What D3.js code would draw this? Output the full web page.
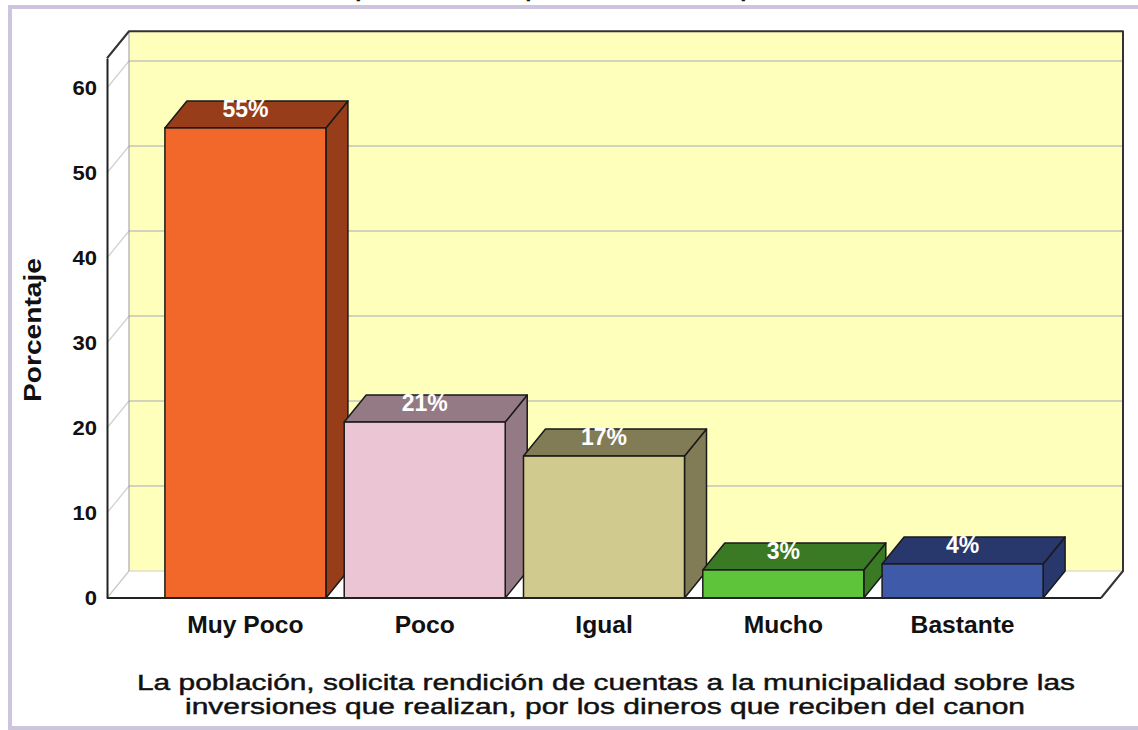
<!DOCTYPE html>
<html><head><meta charset="utf-8">
<script src="https://cdn.jsdelivr.net/npm/d3@7"></script>
<style>
html,body{margin:0;padding:0;background:#fff;}
svg{display:block;font-family:"Liberation Sans",Arial,sans-serif;}
</style></head>
<body>
<svg id="chart" width="1138" height="730"></svg>
<script>
const categories = ["Muy Poco","Poco","Igual","Mucho","Bastante"];
const values = [55.3, 20.7, 16.7, 3.3, 4.0];
const valueLabels = ["55%","21%","17%","3%","4%"];
const frontColors = ["#f2682a","#ebc5d3","#d0ca8f","#5ec43a","#3f5aa9"];
const sideColors = ["#983d1a","#937a84","#817c56","#3b7a25","#28376c"];
const yTicks = [0,10,20,30,40,50,60];
const yTitle = "Porcentaje";
const xTitleLines = ["La población, solicita rendición de cuentas a la municipalidad sobre las",
                     "inversiones que realizan, por los dineros que reciben del canon"];

const svg = d3.select("#chart");
const left = 107, right = 1101, base = 598;
const dx = 22, dy = -27;
const ymax = 63.5;

const x = d3.scaleBand().domain(categories).range([left, right]).paddingInner(0.102).paddingOuter(0.323);
const y = d3.scaleLinear().domain([0, ymax]).range([base, base - 8.5 * ymax]);
const yTop = y(ymax);

function widen(sel, k){
  sel.each(function(){
    const w = this.getComputedTextLength();
    d3.select(this).attr("textLength", w*k).attr("lengthAdjust","spacingAndGlyphs");
  });
}

// outer frame (light purple)
svg.append("path")
  .attr("d", `M1145,7 H10 V728 H1145`)
  .attr("fill","none").attr("stroke","#cdc5dd").attr("stroke-width",4);

// top title (cropped in the reference: only descenders show)
const tTitle = svg.append("g").attr("fill","#111").attr("stroke","#111").attr("stroke-width",0.45);
tTitle.append("text").attr("x", 605).attr("y", -28).attr("text-anchor","middle")
  .attr("font-size",22).attr("textLength",938).attr("lengthAdjust","spacingAndGlyphs").text(xTitleLines[0]);
tTitle.append("text").attr("x", 605).attr("y", -4.5).attr("text-anchor","middle")
  .attr("font-size",22).attr("textLength",840).attr("lengthAdjust","spacingAndGlyphs").text(xTitleLines[1]);

// back wall
svg.append("rect").attr("x", left+dx).attr("y", yTop+dy)
  .attr("width", right-left).attr("height", base-yTop)
  .attr("fill","#ffffbc");
// left wall
svg.append("polygon")
  .attr("points", [[left,base],[left,yTop],[left+dx,yTop+dy],[left+dx,base+dy]].map(p=>p.join(",")).join(" "))
  .attr("fill","#fff");
// floor
svg.append("polygon")
  .attr("points", [[left,base],[right,base],[right+dx,base+dy],[left+dx,base+dy]].map(p=>p.join(",")).join(" "))
  .attr("fill","#fff");

// grid lines
const grid = svg.append("g");
yTicks.filter(d=>d>0).forEach(v=>{
  grid.append("line").attr("x1",left+dx).attr("x2",right+dx)
    .attr("y1",y(v)+dy).attr("y2",y(v)+dy).attr("stroke","#c4c4bc").attr("stroke-width",1.5);
  grid.append("line").attr("x1",left).attr("x2",left+dx)
    .attr("y1",y(v)).attr("y2",y(v)+dy).attr("stroke","#d0d0d0").attr("stroke-width",1.2);
});
grid.append("line").attr("x1",left).attr("x2",left+dx).attr("y1",base).attr("y2",base+dy)
  .attr("stroke","#c8c8c8").attr("stroke-width",1.2);

// wall outlines
svg.append("line").attr("x1",left+dx).attr("x2",left+dx).attr("y1",yTop+dy).attr("y2",base+dy)
  .attr("stroke","#999").attr("stroke-width",1);
svg.append("line").attr("x1",left+dx).attr("x2",right+dx).attr("y1",base+dy).attr("y2",base+dy)
  .attr("stroke","#ccc").attr("stroke-width",1);
svg.append("path")
  .attr("d",`M${left},${yTop} L${left+dx},${yTop+dy} H${right+dx} V${base+dy} L${right},${base}`)
  .attr("fill","none").attr("stroke","#333").attr("stroke-width",2).attr("stroke-linejoin","round");

// bars
const bars = svg.append("g").selectAll("g").data(categories).join("g");
const bw = x.bandwidth();
bars.append("polygon")
  .attr("points",(d,i)=>{const x0=x(d), yv=y(values[i]);
    return [[x0+bw,yv],[x0+bw+dx,yv+dy],[x0+bw+dx,base+dy],[x0+bw,base]].map(p=>p.join(",")).join(" ");})
  .attr("fill",(d,i)=>sideColors[i]).attr("stroke","#1a1a1a").attr("stroke-width",1.5).attr("stroke-linejoin","round");
bars.append("polygon")
  .attr("points",(d,i)=>{const x0=x(d), yv=y(values[i]);
    return [[x0,yv],[x0+dx,yv+dy],[x0+bw+dx,yv+dy],[x0+bw,yv]].map(p=>p.join(",")).join(" ");})
  .attr("fill",(d,i)=>sideColors[i]).attr("stroke","#1a1a1a").attr("stroke-width",1.5).attr("stroke-linejoin","round");
bars.append("rect")
  .attr("x",d=>x(d)).attr("y",(d,i)=>y(values[i]))
  .attr("width",bw).attr("height",(d,i)=>base-y(values[i]))
  .attr("fill",(d,i)=>frontColors[i]).attr("stroke","#1a1a1a").attr("stroke-width",1.5);
bars.append("text")
  .attr("x",d=>x(d)+bw/2).attr("y",(d,i)=>y(values[i])-11)
  .attr("text-anchor","middle").attr("font-size",23).attr("font-weight","bold")
  .attr("fill","#fff").text((d,i)=>valueLabels[i]);

// y axis
const yAxis = svg.append("g").attr("transform",`translate(${left},0)`)
  .call(d3.axisLeft(y).tickValues(yTicks).tickSize(0).tickSizeOuter(0).tickPadding(10));
yAxis.select(".domain").attr("stroke","#222").attr("stroke-width",2);
yAxis.selectAll("text").attr("font-size",21).attr("font-weight","bold").attr("fill","#111")
  .attr("font-family","'Liberation Sans',Arial,sans-serif").call(widen, 1.05);

// floor front line
svg.append("line").attr("x1",left).attr("x2",right).attr("y1",base).attr("y2",base)
  .attr("stroke","#222").attr("stroke-width",2);

// x axis labels
const xAxis = svg.append("g").attr("transform",`translate(0,${base})`)
  .call(d3.axisBottom(x).tickSize(0).tickPadding(19));
xAxis.select(".domain").remove();
xAxis.selectAll("text").attr("font-size",23).attr("font-weight","bold").attr("fill","#111")
  .attr("font-family","'Liberation Sans',Arial,sans-serif").call(widen, 1.07);

// y title
svg.append("text").attr("transform","translate(41,330) rotate(-90)")
  .attr("text-anchor","middle").attr("font-size",24).attr("font-weight","bold").attr("fill","#111")
  .attr("textLength",144).attr("lengthAdjust","spacingAndGlyphs").text(yTitle);

// x title
const xt = svg.append("g").attr("fill","#111").attr("stroke","#111").attr("stroke-width",0.45);
xt.append("text").attr("x",606).attr("y",690).attr("text-anchor","middle")
  .attr("font-size",22).attr("textLength",938).attr("lengthAdjust","spacingAndGlyphs").text(xTitleLines[0]);
xt.append("text").attr("x",605).attr("y",714).attr("text-anchor","middle")
  .attr("font-size",22).attr("textLength",840).attr("lengthAdjust","spacingAndGlyphs").text(xTitleLines[1]);
</script>
</body></html>
